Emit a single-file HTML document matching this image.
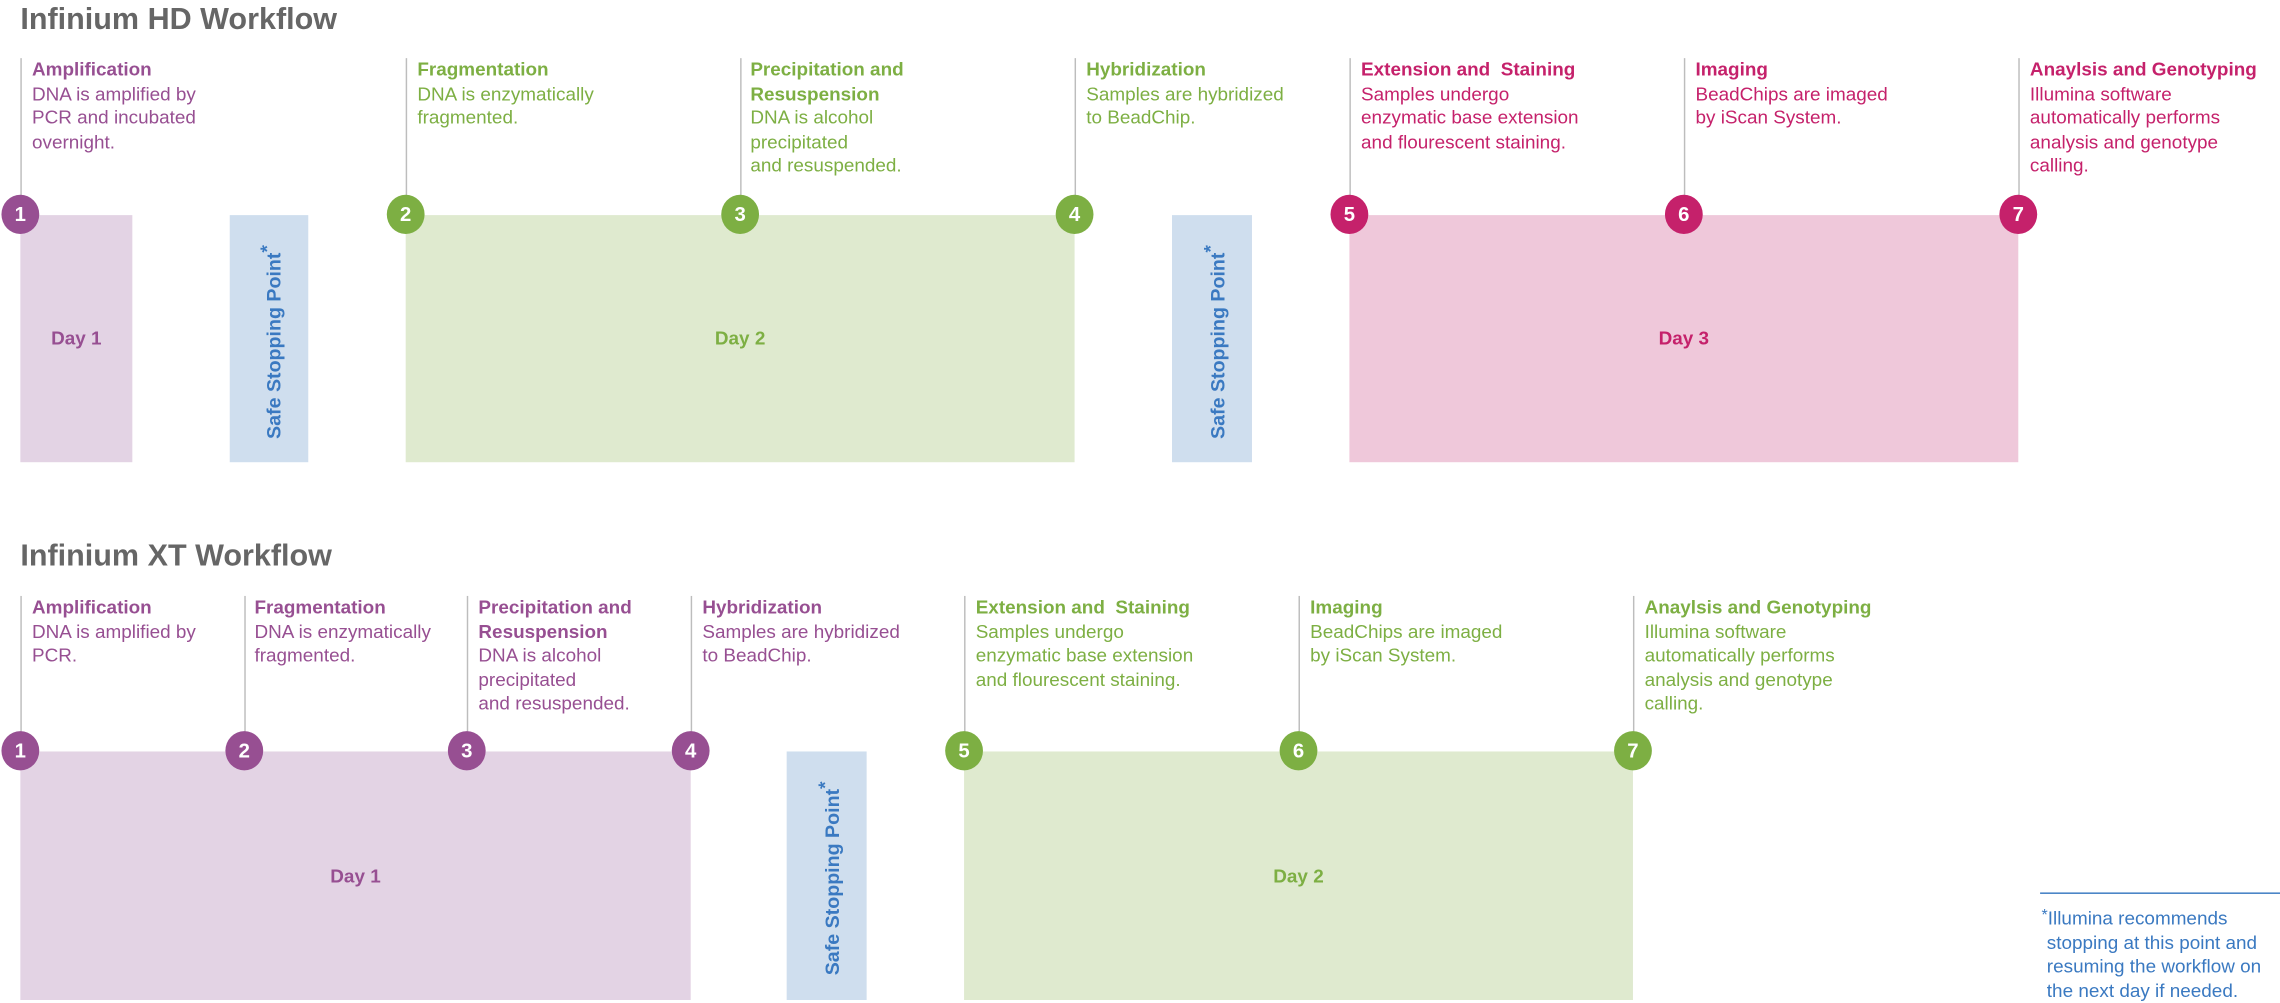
<!DOCTYPE html>
<html><head><meta charset="utf-8"><style>
html,body{margin:0;padding:0;background:#fff;width:2280px;height:1000px;overflow:hidden}
#w{position:absolute;left:0;top:0;width:1568px;height:688px;transform:scale(1.4541,1.4535);transform-origin:0 0;font-family:"Liberation Sans",sans-serif}
#w div{position:absolute}
.t{font-size:21px;font-weight:bold;color:#666;white-space:nowrap}
.ln{width:1.4px;background:#bdbdbd}
.c{width:26px;height:27px;border-radius:50%;color:#fff;font-weight:bold;font-size:14px;text-align:center;line-height:27px}
.s{font-size:13px;line-height:16.6px;white-space:nowrap}
.s b{display:block}
.P{color:#974f92}.G{color:#7daf43}.M{color:#c5216b}
.cP{background:#974f92}.cG{background:#7daf43}.cM{background:#c5216b}
.bP{background:#e3d3e4}.bG{background:#dfeacf}.bM{background:#efc8da}.bS{background:#cfdeee}
.day{font-size:13px;font-weight:bold;text-align:center}
.safe{color:#3a79c1;font-weight:bold;font-size:13.5px;white-space:nowrap;transform:rotate(-90deg);transform-origin:0 0}
.safe sup{font-size:13px;vertical-align:5px}
</style></head><body><div id="w">
<div class="t" style="left:14px;top:2px">Infinium HD Workflow</div>
<div class="t" style="left:14px;top:371px">Infinium XT Workflow</div>

<div class="bP" style="left:14px;top:148px;width:77px;height:170px"></div>
<div class="bS" style="left:158px;top:148px;width:54px;height:170px"></div>
<div class="bG" style="left:279px;top:148px;width:460px;height:170px"></div>
<div class="bS" style="left:806px;top:148px;width:55px;height:170px"></div>
<div class="bM" style="left:928px;top:148px;width:460px;height:170px"></div>
<div class="day P" style="left:14px;top:225px;width:77px">Day 1</div>
<div class="day G" style="left:279px;top:225px;width:460px">Day 2</div>
<div class="day M" style="left:928px;top:225px;width:460px">Day 3</div>
<div class="safe" style="left:176px;top:302px">Safe Stopping Point<sup>*</sup></div>
<div class="safe" style="left:825px;top:302px">Safe Stopping Point<sup>*</sup></div>

<div class="ln" style="left:14px;top:40px;height:100px"></div>
<div class="ln" style="left:279px;top:40px;height:100px"></div>
<div class="ln" style="left:509px;top:40px;height:100px"></div>
<div class="ln" style="left:739px;top:40px;height:100px"></div>
<div class="ln" style="left:928px;top:40px;height:100px"></div>
<div class="ln" style="left:1158px;top:40px;height:100px"></div>
<div class="ln" style="left:1388px;top:40px;height:100px"></div>
<div class="c cP" style="left:1px;top:134px">1</div>
<div class="c cG" style="left:266px;top:134px">2</div>
<div class="c cG" style="left:496px;top:134px">3</div>
<div class="c cG" style="left:726px;top:134px">4</div>
<div class="c cM" style="left:915px;top:134px">5</div>
<div class="c cM" style="left:1145px;top:134px">6</div>
<div class="c cM" style="left:1375px;top:134px">7</div>

<div class="s P" style="left:22px;top:40px"><b>Amplification</b>DNA is amplified by<br>PCR and incubated<br>overnight.</div>
<div class="s G" style="left:287px;top:40px"><b>Fragmentation</b>DNA is enzymatically<br>fragmented.</div>
<div class="s G" style="left:516px;top:40px"><b>Precipitation and<br>Resuspension</b>DNA is alcohol<br>precipitated<br>and resuspended.</div>
<div class="s G" style="left:747px;top:40px"><b>Hybridization</b>Samples are hybridized<br>to BeadChip.</div>
<div class="s M" style="left:936px;top:40px"><b>Extension and&nbsp; Staining</b>Samples undergo<br>enzymatic base extension<br>and flourescent staining.</div>
<div class="s M" style="left:1166px;top:40px"><b>Imaging</b>BeadChips are imaged<br>by iScan System.</div>
<div class="s M" style="left:1396px;top:40px"><b>Anaylsis and Genotyping</b>Illumina software<br>automatically performs<br>analysis and genotype<br>calling.</div>

<div class="bP" style="left:14px;top:517px;width:461px;height:171px"></div>
<div class="bS" style="left:541px;top:517px;width:55px;height:171px"></div>
<div class="bG" style="left:663px;top:517px;width:460px;height:171px"></div>
<div class="day P" style="left:14px;top:595px;width:461px">Day 1</div>
<div class="day G" style="left:663px;top:595px;width:460px">Day 2</div>
<div class="safe" style="left:560px;top:671px">Safe Stopping Point<sup>*</sup></div>

<div class="ln" style="left:14px;top:410px;height:100px"></div>
<div class="ln" style="left:168px;top:410px;height:100px"></div>
<div class="ln" style="left:321px;top:410px;height:100px"></div>
<div class="ln" style="left:475px;top:410px;height:100px"></div>
<div class="ln" style="left:663px;top:410px;height:100px"></div>
<div class="ln" style="left:893px;top:410px;height:100px"></div>
<div class="ln" style="left:1123px;top:410px;height:100px"></div>
<div class="c cP" style="left:1px;top:503px">1</div>
<div class="c cP" style="left:155px;top:503px">2</div>
<div class="c cP" style="left:308px;top:503px">3</div>
<div class="c cP" style="left:462px;top:503px">4</div>
<div class="c cG" style="left:650px;top:503px">5</div>
<div class="c cG" style="left:880px;top:503px">6</div>
<div class="c cG" style="left:1110px;top:503px">7</div>

<div class="s P" style="left:22px;top:410px"><b>Amplification</b>DNA is amplified by<br>PCR.</div>
<div class="s P" style="left:175px;top:410px"><b>Fragmentation</b>DNA is enzymatically<br>fragmented.</div>
<div class="s P" style="left:329px;top:410px"><b>Precipitation and<br>Resuspension</b>DNA is alcohol<br>precipitated<br>and resuspended.</div>
<div class="s P" style="left:483px;top:410px"><b>Hybridization</b>Samples are hybridized<br>to BeadChip.</div>
<div class="s G" style="left:671px;top:410px"><b>Extension and&nbsp; Staining</b>Samples undergo<br>enzymatic base extension<br>and flourescent staining.</div>
<div class="s G" style="left:901px;top:410px"><b>Imaging</b>BeadChips are imaged<br>by iScan System.</div>
<div class="s G" style="left:1131px;top:410px"><b>Anaylsis and Genotyping</b>Illumina software<br>automatically performs<br>analysis and genotype<br>calling.</div>

<div style="left:1403px;top:614px;width:165px;height:1.4px;background:#3a79c1"></div>
<div class="s" style="left:1404px;top:622px;color:#3a79c1"><sup style="font-size:11px;vertical-align:3px">*</sup>Illumina recommends<br>&nbsp;stopping at this point and<br>&nbsp;resuming the workflow on<br>&nbsp;the next day if needed.</div>
</div></body></html>
